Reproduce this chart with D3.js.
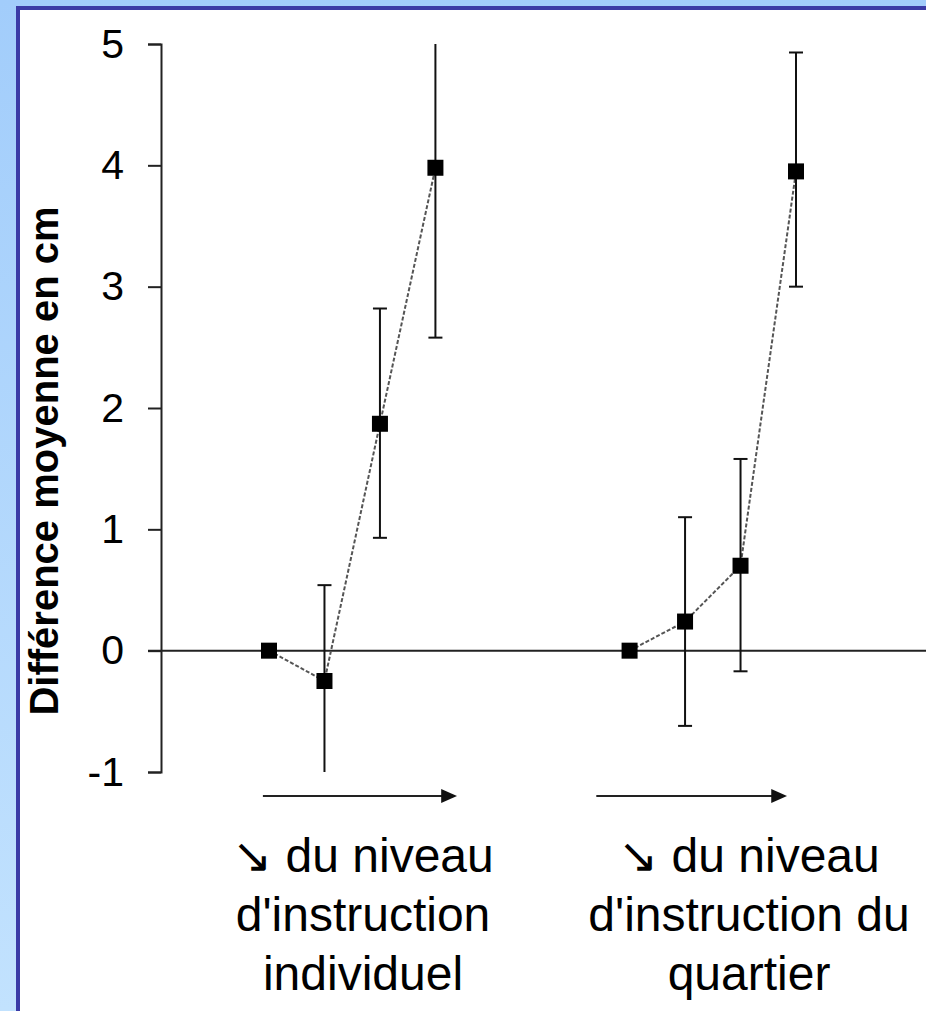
<!DOCTYPE html>
<html>
<head>
<meta charset="utf-8">
<script src="https://cdn.jsdelivr.net/npm/d3@7"></script>
<style>
  html, body { margin: 0; padding: 0; background: #fff; }
  svg { display: block; }
</style>
</head>
<body>
<div id="chart"></div>
<script>
// Set dimensions
const width = 926;
const height = 1011;

// Data
const xIndividuel = [0, 1, 2, 3];
const xQuartier = [6.5, 7.5, 8.5, 9.5];
const meanIndividuel = [0, -0.25, 1.87, 3.98];
const lowIndividuel = [null, -1.0, 0.93, 2.58];
const highIndividuel = [null, 0.54, 2.82, 5.0];
const meanQuartier = [0, 0.24, 0.7, 3.95];
const lowQuartier = [null, -0.62, -0.17, 3.0];
const highQuartier = [null, 1.1, 1.58, 4.93];
const yTicks = [-1, 0, 1, 2, 3, 4, 5];
const arrowSpans = [[-0.11, 3.41], [5.9, 9.36]];
const labelLines = [
  ["\u2198 du niveau", "d'instruction", "individuel"],
  ["\u2198 du niveau", "d'instruction du", "quartier"]
];
const yLabel = "Différence moyenne en cm";

const series = [
  { x: xIndividuel, mean: meanIndividuel, low: lowIndividuel, high: highIndividuel },
  { x: xQuartier, mean: meanQuartier, low: lowQuartier, high: highQuartier }
];

const svg = d3.select("#chart")
  .append("svg")
  .attr("width", width)
  .attr("height", height);

// Background frame
const defs = svg.append("defs");
const grad = defs.append("linearGradient")
  .attr("id", "bg")
  .attr("x1", 0).attr("y1", 0).attr("x2", 0).attr("y2", 1);
grad.append("stop").attr("offset", "0%").attr("stop-color", "#a2cdfb");
grad.append("stop").attr("offset", "100%").attr("stop-color", "#c2e2fe");

svg.append("rect").attr("width", width).attr("height", height).attr("fill", "url(#bg)");
svg.append("rect")
  .attr("x", 16).attr("y", 6)
  .attr("width", width).attr("height", height)
  .attr("fill", "#3b3ba6");
svg.append("rect")
  .attr("x", 20).attr("y", 10)
  .attr("width", width).attr("height", height)
  .attr("fill", "#ffffff");

// Scales
const y = d3.scaleLinear().domain([-1, 5]).range([772, 44]);
const x = d3.scaleLinear().domain([0, 9.5]).range([269, 796]);
const axisX = 161;

const font = "'Liberation Sans', Arial, sans-serif";

// Zero line
svg.append("line")
  .attr("x1", axisX - 13).attr("x2", width)
  .attr("y1", y(0)).attr("y2", y(0))
  .attr("stroke", "#222")
  .attr("stroke-width", 2);

// Y axis
const yAxis = svg.append("g")
  .attr("transform", `translate(${axisX},0)`)
  .call(d3.axisLeft(y)
    .tickValues(yTicks)
    .tickFormat(d => String(d))
    .tickSize(13)
    .tickSizeOuter(13)
    .tickPadding(24));
yAxis.selectAll("path, line").attr("stroke", "#222").attr("stroke-width", 2);
yAxis.selectAll("text")
  .attr("fill", "#000")
  .style("font-family", font)
  .style("font-size", "41px");

// Y label
svg.append("text")
  .attr("transform", `translate(58,${(205 + 717) / 2}) rotate(-90)`)
  .attr("text-anchor", "middle")
  .style("font-family", font)
  .style("font-size", "40px")
  .style("font-weight", "bold")
  .text(yLabel);

// Series
series.forEach(s => {
  const pts = s.x.map((v, i) => ({ x: v, m: s.mean[i], lo: s.low[i], hi: s.high[i] }));

  // dashed connecting line
  svg.append("path")
    .datum(pts)
    .attr("fill", "none")
    .attr("stroke", "#555")
    .attr("stroke-width", 2)
    .attr("stroke-dasharray", "4,2")
    .attr("d", d3.line().x(d => x(d.x)).y(d => y(d.m)));

  const eb = pts.filter(d => d.lo !== null);

  // error bars
  svg.selectAll(null)
    .data(eb)
    .enter()
    .append("line")
    .attr("x1", d => x(d.x)).attr("x2", d => x(d.x))
    .attr("y1", d => y(d.lo)).attr("y2", d => y(d.hi))
    .attr("stroke", "#111")
    .attr("stroke-width", 2);

  // caps (not drawn where the bar is clipped by the axis range)
  const caps = [];
  eb.forEach(d => {
    if (d.lo > -1) caps.push({ x: d.x, v: d.lo });
    if (d.hi < 5) caps.push({ x: d.x, v: d.hi });
  });
  svg.selectAll(null)
    .data(caps)
    .enter()
    .append("line")
    .attr("x1", d => x(d.x) - 7).attr("x2", d => x(d.x) + 7)
    .attr("y1", d => y(d.v)).attr("y2", d => y(d.v))
    .attr("stroke", "#111")
    .attr("stroke-width", 2);

  // markers
  svg.selectAll(null)
    .data(pts)
    .enter()
    .append("rect")
    .attr("x", d => x(d.x) - 8)
    .attr("y", d => y(d.m) - 8)
    .attr("width", 16)
    .attr("height", 16)
    .attr("fill", "#000");
});

// Arrows under each group
defs.append("marker")
  .attr("id", "head")
  .attr("viewBox", "0 0 16 14")
  .attr("refX", 1).attr("refY", 7)
  .attr("markerWidth", 16).attr("markerHeight", 14)
  .attr("markerUnits", "userSpaceOnUse")
  .attr("orient", "auto")
  .append("path")
  .attr("d", "M0,0L16,7L0,14Z")
  .attr("fill", "#111");

const arrowY = 796;
svg.selectAll(null)
  .data(arrowSpans)
  .enter()
  .append("line")
  .attr("x1", d => x(d[0]))
  .attr("x2", d => x(d[1]) - 16)
  .attr("y1", arrowY).attr("y2", arrowY)
  .attr("stroke", "#222")
  .attr("stroke-width", 2)
  .attr("marker-end", "url(#head)");

// Group labels
const labelCenters = [363, 749];
labelLines.forEach((lines, gi) => {
  const t = svg.append("text")
    .attr("text-anchor", "middle")
    .style("font-family", font)
    .style("font-size", "48px")
    .attr("fill", "#000");
  lines.forEach((ln, li) => {
    t.append("tspan")
      .attr("x", labelCenters[gi])
      .attr("y", 872 + li * 59)
      .text(ln);
  });
});
</script>
</body>
</html>
